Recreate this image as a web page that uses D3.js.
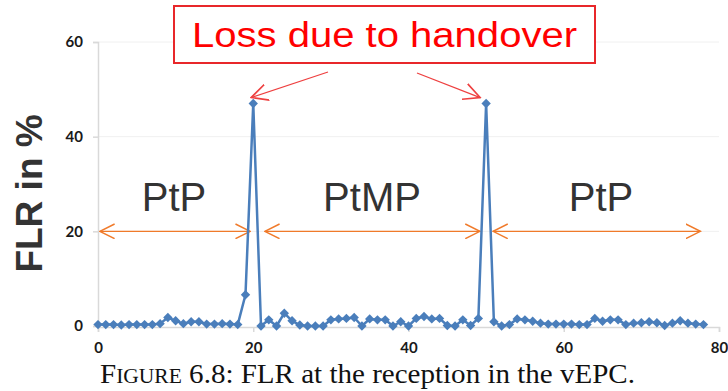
<!DOCTYPE html>
<html>
<head>
<meta charset="utf-8">
<script src="https://cdn.jsdelivr.net/npm/d3@7/dist/d3.min.js"></script>
<style>
  html, body { margin: 0; padding: 0; background: #fff; }
  svg { display: block; }
</style>
</head>
<body>
<svg id="chart" width="728" height="391"></svg>
<script>
// Frame loss ratio per sample index (percent)
const sampleIndex = d3.range(0, 79);
const flrPercent = [
  0.3, 0.3, 0.3, 0.2, 0.3, 0.3, 0.3, 0.3, 0.5, 1.8,
  1.1, 0.5, 0.9, 0.9, 0.4, 0.4, 0.5, 0.4, 0.3, 6.6,
  47, 0, 1.3, 0, 2.7, 1.1, 0.2, 0, 0, 0,
  1.3, 1.5, 1.6, 1.8, 0, 1.5, 1.3, 1.3, 0, 0.9,
  0, 1.6, 2.0, 1.5, 1.6, 0.1, 0, 1.3, 0.1, 1.6,
  47, 0.9, 0, 0.3, 1.5, 1.3, 1.0, 0.6, 0.4, 0.4,
  0.4, 0.4, 0.3, 0.3, 1.6, 1.0, 1.3, 1.3, 0.3, 0.6,
  0.7, 0.9, 0.7, 0.1, 0.6, 1.1, 0.6, 0.4, 0.3
];
const xTicks = [0, 20, 40, 60, 80];
const yTicks = [0, 20, 40, 60];

// Transmission phases (start, end in sample index, label)
const phaseNames = ["PtP", "PtMP", "PtP"];
const phaseStart = [0.25, 21.5, 50.9];
const phaseEnd = [19.6, 49.2, 77.6];
const phaseLevel = 20;
const phaseLabelX = [9.8, 35.3, 64.8];

// Handover callout: arrows pointing to the two peaks
const handoverPeaks = [20, 50];
const calloutText = "Loss due to handover";
const captionLead = "F";
const captionSmall = "IGURE";
const captionRest = " 6.8: FLR at the reception in the vEPC.";

const svg = d3.select("#chart");
const x = d3.scaleLinear().domain([0, 80]).range([98, 719]);
const y = d3.scaleLinear().domain([0, 60]).range([326, 42]);

// Gridlines
svg.append("g")
  .selectAll("line")
  .data(yTicks.filter(t => t > 0))
  .join("line")
  .attr("x1", x(0)).attr("x2", x(80))
  .attr("y1", t => y(t)).attr("y2", t => y(t))
  .attr("stroke", "#f0f0f0").attr("stroke-width", 1);

// Y axis
const yAxis = svg.append("g")
  .attr("transform", `translate(${x(0)},0)`)
  .call(d3.axisLeft(y).tickValues(yTicks).tickSize(5).tickPadding(10));
yAxis.select(".domain").attr("stroke", "#d9d9d9").attr("stroke-width", 1.5);
yAxis.selectAll(".tick line").attr("stroke", "#d9d9d9").attr("stroke-width", 1.5);
yAxis.selectAll(".tick text")
  .attr("font-family", "Lato, 'Open Sans', sans-serif")
  .attr("font-weight", "bold").attr("font-size", 15).attr("fill", "#1a1a1a");

// X axis
const xAxis = svg.append("g")
  .attr("transform", `translate(0,${y(0) + 1})`)
  .call(d3.axisBottom(x).tickValues(xTicks).tickSize(5).tickPadding(10));
xAxis.select(".domain").attr("stroke", "#d9d9d9").attr("stroke-width", 1.5);
xAxis.selectAll(".tick line").attr("stroke", "#d9d9d9").attr("stroke-width", 1.5);
xAxis.selectAll(".tick text")
  .attr("font-family", "Lato, 'Open Sans', sans-serif")
  .attr("font-weight", "bold").attr("font-size", 15).attr("fill", "#1a1a1a");

// Y axis title
svg.append("text")
  .attr("transform", `translate(42,${y(28)}) rotate(-90)`)
  .attr("text-anchor", "middle")
  .attr("font-family", "'Liberation Sans', Arial, sans-serif")
  .attr("font-weight", "bold").attr("font-size", 37).attr("fill", "#333")
  .text("FLR in %");

// Arrow markers
const defs = svg.append("defs");
function arrowMarker(id, color, size) {
  defs.append("marker")
    .attr("id", id)
    .attr("viewBox", "0 0 12 12")
    .attr("refX", 11).attr("refY", 6)
    .attr("markerUnits", "userSpaceOnUse")
    .attr("markerWidth", size).attr("markerHeight", size)
    .attr("orient", "auto-start-reverse")
    .append("path")
    .attr("d", "M0,0.5 L11,6 L0,11.5")
    .attr("fill", "none").attr("stroke", color).attr("stroke-width", 1.1);
}
arrowMarker("orangeHead", "#f07a2a", 16);
arrowMarker("redHead", "#ee4040", 18);

// Phase arrows and labels
const phases = phaseNames.map((n, i) => ({ name: n, s: phaseStart[i], e: phaseEnd[i], lx: phaseLabelX[i] }));
svg.append("g")
  .selectAll("line")
  .data(phases)
  .join("line")
  .attr("x1", p => x(p.s)).attr("x2", p => x(p.e))
  .attr("y1", y(phaseLevel)).attr("y2", y(phaseLevel))
  .attr("stroke", "#f07a2a").attr("stroke-width", 1.3)
  .attr("marker-start", "url(#orangeHead)")
  .attr("marker-end", "url(#orangeHead)");
svg.append("g")
  .selectAll("text")
  .data(phases)
  .join("text")
  .attr("x", p => x(p.lx)).attr("y", y(phaseLevel) - 20)
  .attr("text-anchor", "middle")
  .attr("font-family", "'Liberation Sans', Arial, sans-serif")
  .attr("font-size", 40).attr("fill", "#333")
  .text(p => p.name);

// FLR series
const pts = sampleIndex.map((i) => ({ i, v: flrPercent[i] }));
svg.append("path")
  .datum(pts)
  .attr("fill", "none").attr("stroke", "#4a7ebb").attr("stroke-width", 2.5)
  .attr("stroke-linejoin", "round")
  .attr("d", d3.line().x(p => x(p.i)).y(p => y(p.v)));
svg.append("g")
  .selectAll("path")
  .data(pts)
  .join("path")
  .attr("transform", p => `translate(${x(p.i)},${y(p.v)}) rotate(45)`)
  .attr("d", d3.symbol(d3.symbolSquare, 44))
  .attr("fill", "#4a7ebb");

// Callout box
svg.append("rect")
  .attr("x", 174).attr("y", 6).attr("width", 421).attr("height", 57)
  .attr("fill", "#fff").attr("stroke", "#e8272a").attr("stroke-width", 2);
svg.append("text")
  .attr("x", 192).attr("y", 47)
  .attr("textLength", 385).attr("lengthAdjust", "spacingAndGlyphs")
  .attr("font-family", "'Liberation Sans', Arial, sans-serif")
  .attr("font-size", 35).attr("fill", "#ff0000")
  .text(calloutText);

// Callout arrows to the handover peaks
const calloutFrom = [[328, 72], [417, 73]];
const calloutOffset = [-2, -6];
svg.append("g")
  .selectAll("line")
  .data(handoverPeaks)
  .join("line")
  .attr("x1", (k, i) => calloutFrom[i][0]).attr("y1", (k, i) => calloutFrom[i][1])
  .attr("x2", (k, i) => x(k) + calloutOffset[i]).attr("y2", k => y(flrPercent[k]) - 6)
  .attr("stroke", "#ee4040").attr("stroke-width", 1.3)
  .attr("marker-end", "url(#redHead)");

// Caption
const cap = svg.append("text")
  .attr("x", 100).attr("y", 383)
  .attr("textLength", 535).attr("lengthAdjust", "spacingAndGlyphs")
  .attr("font-family", "'Liberation Serif', 'DejaVu Serif', serif")
  .attr("font-size", 27).attr("fill", "#111");
cap.append("tspan").text(captionLead);
cap.append("tspan").attr("font-size", 20).text(captionSmall);
cap.append("tspan").text(captionRest);
</script>
</body>
</html>
